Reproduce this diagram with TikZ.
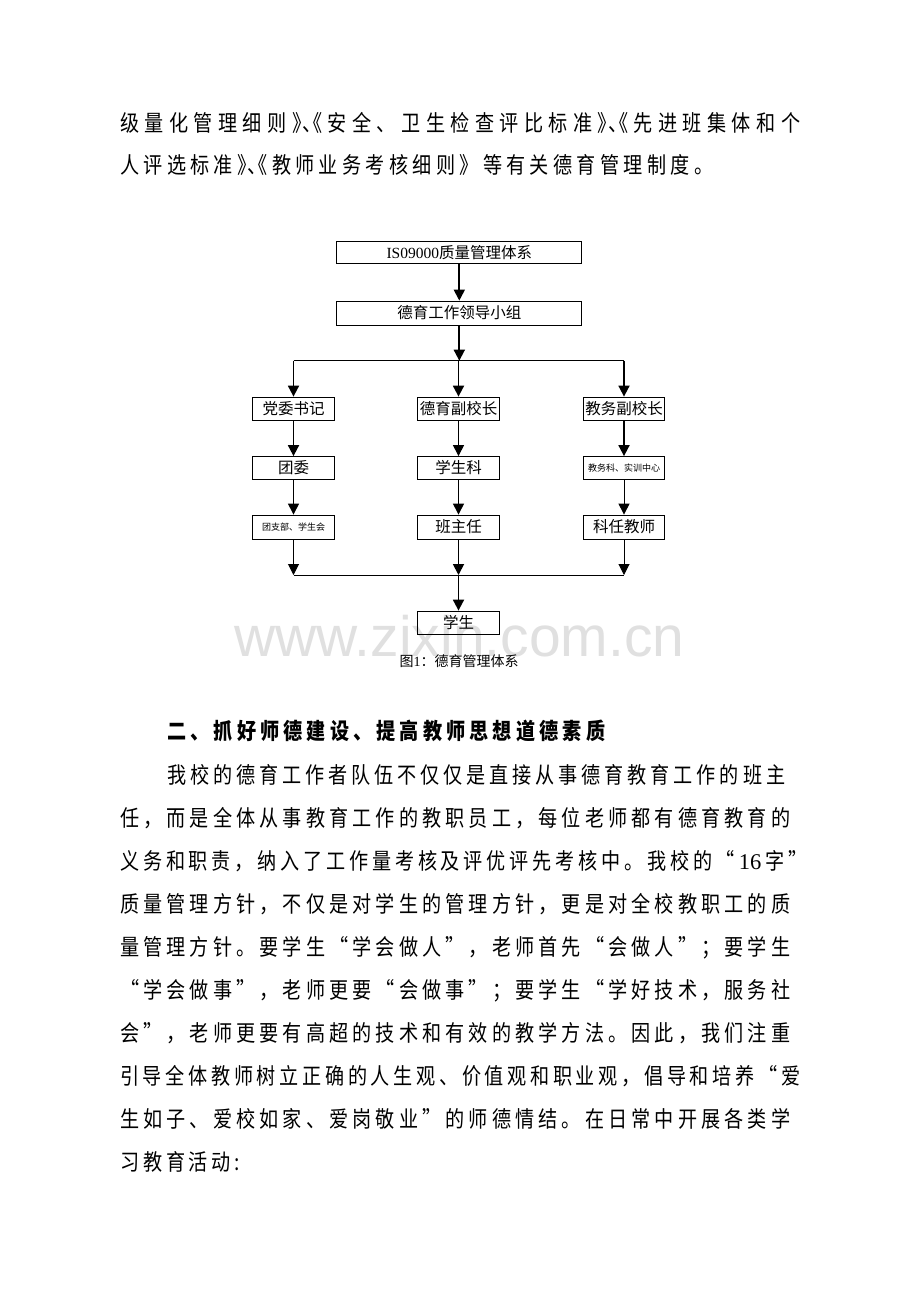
\documentclass[tikz,border=0pt]{standalone}
\usepackage{fontspec}
\setmainfont{Liberation Serif}
\newfontfamily\cjk{Noto Sans CJK SC}[FakeStretch=0.85]
\newfontfamily\cjkd{Noto Sans CJK SC}
\newfontfamily\lat{Liberation Serif}
\newfontfamily\wmfont{Liberation Sans}
\usetikzlibrary{arrows.meta}
\def\jspEnd{}
\newcommand\jsp[1]{\jspA#1\jspEnd}
\def\jspA#1{\ifx\jspEnd#1\unskip\else{#1}\hskip 0pt plus 1fil\relax\expandafter\jspA\fi}
\newcommand\pq{\makebox[0.45em][l]{》}\makebox[0.45em][l]{、}\makebox[0.45em][r]{《}}
\newcommand\bline[4]{\node[bodyline] (#1) at (#2) {\makebox[#3pt][s]{\jsp{#4}}};}
\tikzset{
  bodyline/.style={anchor=base west,inner sep=0pt,font=\cjk\fontsize{22.5}{22.5}\selectfont},
  boxn/.style={draw,line width=0.8pt,minimum width=81.5pt,minimum height=23pt,inner sep=0pt,font=\cjkd\fontsize{15.5}{15.5}\selectfont},
  widebox/.style={boxn,minimum width=245pt},
  smalltxt/.style={font=\cjkd\fontsize{9}{9}\selectfont},
  arrthick/.style={line width=1.8pt,-{Triangle[width=11pt,length=11pt]}},
  arrthin/.style={line width=1pt,-{Triangle[width=11pt,length=11pt]}},
  linethin/.style={line width=1pt},
}
\begin{document}
\begin{tikzpicture}[x=1pt,y=-1pt]
\fill[white] (0,0) rectangle (920,1302);
\useasboundingbox (0,0) rectangle (920,1302);

% watermark
\node[anchor=base,inner sep=0pt,text=black!12,font=\wmfont\fontsize{57}{57}\selectfont] (wm) at (459.5,656) {www.zixin.com.cn};

% text above
\bline{l1}{120,131.6}{680}{级量化管理细则\pq 安全、卫生检查评比标准\pq 先进班集体和个}
\bline{l2}{120,173.6}{593}{人评选标准\pq 教师业务考核细则》等有关德育管理制度。}

% diagram
\node[widebox,minimum height=22pt] (iso) at (459.3,252.5) {{\lat IS09000}质量管理体系};
\node[widebox,minimum height=24pt] (lead) at (459.3,313) {德育工作领导小组};
\node[boxn] (b11) at (293.5,408.5) {党委书记};
\node[boxn] (b12) at (458.5,408.5) {德育副校长};
\node[boxn] (b13) at (624,408.5) {教务副校长};
\node[boxn] (b21) at (293.5,468) {团委};
\node[boxn] (b22) at (458.5,468) {学生科};
\node[boxn,smalltxt] (b23) at (624,468) {教务科、实训中心};
\node[boxn,smalltxt,minimum height=24pt] (b31) at (293.5,527) {团支部、学生会};
\node[boxn,minimum height=24pt] (b32) at (458.5,527) {班主任};
\node[boxn,minimum height=24pt] (b33) at (624,527) {科任教师};
\node[boxn] (stu) at (458.5,622.5) {学生};
\coordinate (hub) at (459.3,360.7);
\coordinate (jb) at (458.5,575);

\draw[arrthick] (iso) -- (lead);
\draw[arrthick] (lead) -- (hub);
\draw[linethin] (b11.north |- hub) -- (b13.north |- hub);
\draw[arrthick] (b11.north |- hub) -- (b11);
\draw[arrthick] (b12.north |- hub) -- (b12);
\draw[arrthick] (b13.north |- hub) -- (b13);
\draw[arrthick] (b11) -- (b21);
\draw[arrthin] (b12) -- (b22);
\draw[arrthick] (b13) -- (b23);
\draw[arrthin] (b21) -- (b31);
\draw[arrthin] (b22) -- (b32);
\draw[arrthin] (b23) -- (b33);
\draw[arrthin] (b31) -- (b31.south |- jb);
\draw[arrthick] (b32) -- (jb);
\draw[arrthin] (b33) -- (b33.south |- jb);
\draw[linethin] (b31.south |- jb) -- (b33.south |- jb);
\draw[arrthick] (jb) -- (stu);
\node[font=\cjkd\fontsize{14}{14}\selectfont] (cap) at (459,661) {图{\lat 1}：德育管理体系};

% text below
\node[bodyline,font=\cjk\bfseries\fontsize{22.5}{22.5}\selectfont] (h) at (167,739.6) {\makebox[438pt][s]{\jsp{二、抓好师德建设、提高教师思想道德素质}}};
\bline{p1}{167,783.6}{618}{我校的德育工作者队伍不仅仅是直接从事德育教育工作的班主}
\bline{p2}{120,826.6}{670}{任，而是全体从事教育工作的教职员工，每位老师都有德育教育的}
\bline{p3}{120,869.6}{687}{义务和职责，纳入了工作量考核及评优评先考核中。我校的“{\lat 16}字”}
\bline{p4}{120,912.6}{670}{质量管理方针，不仅是对学生的管理方针，更是对全校教职工的质}
\bline{p5}{120,955.6}{670}{量管理方针。要学生“学会做人”，老师首先“会做人”；要学生}
\bline{p6}{120,998.6}{670}{“学会做事”，老师更要“会做事”；要学生“学好技术，服务社}
\bline{p7}{120,1041.6}{670}{会”，老师更要有高超的技术和有效的教学方法。因此，我们注重}
\bline{p8}{120,1084.6}{680}{引导全体教师树立正确的人生观、价值观和职业观，倡导和培养“爱}
\bline{p9}{120,1127.6}{670}{生如子、爱校如家、爱岗敬业”的师德情结。在日常中开展各类学}
\bline{p10}{120,1170.6}{120}{习教育活动:}
\end{tikzpicture}
\end{document}
